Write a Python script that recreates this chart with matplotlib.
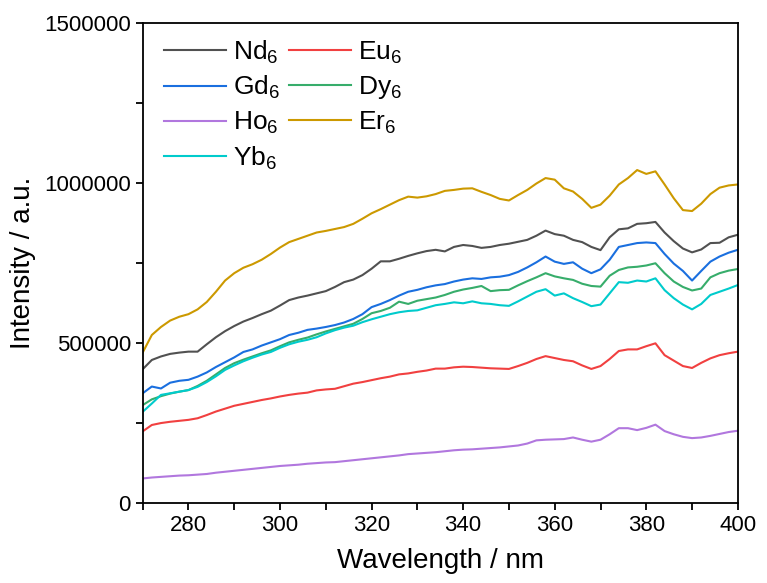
import numpy as np
import matplotlib
matplotlib.use("Agg")
import matplotlib.pyplot as plt
from matplotlib.ticker import MultipleLocator, FuncFormatter

plt.rcParams['font.family'] = ['Liberation Sans', 'DejaVu Sans']
plt.rcParams['mathtext.default'] = 'regular'

# longueurs d'onde (nm), pas de 2 nm
wavelength = np.arange(270, 401, 2)

# intensités (en milliers)
nd6 = [418, 447, 458, 466, 470, 473, 473, 496, 518, 537, 553, 567, 578, 590, 601, 617, 634, 642, 648, 655,
       662, 675, 690, 698, 712, 732, 755, 755, 763, 772, 780, 787, 791, 786, 800, 806, 803, 797, 800, 806,
       810, 816, 822, 835, 851, 840, 835, 822, 815, 800, 790, 830, 855, 858, 872, 874, 878, 845, 818, 795,
       783, 792, 812, 813, 830, 838]
eu6 = [224, 244, 250, 254, 257, 260, 265, 275, 286, 295, 304, 310, 316, 322, 327, 333, 338, 342, 345, 352,
       355, 357, 365, 373, 378, 384, 390, 395, 402, 405, 410, 414, 420, 420, 424, 426, 425, 423, 421, 420,
       419, 428, 438, 450, 459, 453, 447, 443, 430, 419, 428, 450, 475, 480, 480, 490, 499, 462, 445, 428,
       422, 438, 452, 462, 468, 473]
gd6 = [343, 364, 358, 376, 382, 385, 395, 408, 425, 440, 455, 472, 480, 492, 502, 512, 525, 532, 541, 545,
       550, 556, 564, 575, 590, 612, 622, 634, 648, 660, 666, 674, 680, 684, 692, 698, 702, 700, 705, 707,
       712, 722, 736, 752, 770, 754, 747, 752, 732, 718, 730, 760, 800, 806, 812, 814, 812, 778, 748, 725,
       695, 725, 754, 770, 782, 791]
dy6 = [306, 324, 334, 342, 348, 353, 366, 382, 402, 422, 437, 448, 458, 468, 477, 490, 502, 510, 517, 527,
       536, 544, 552, 560, 575, 593, 600, 610, 629, 622, 632, 637, 642, 650, 660, 667, 672, 678, 662, 665,
       666, 680, 693, 705, 718, 708, 702, 697, 685, 678, 676, 710, 728, 736, 738, 742, 749, 718, 692, 675,
       664, 670, 705, 718, 726, 731]
ho6 = [77, 80, 82, 84, 86, 87, 89, 91, 95, 98, 101, 104, 107, 110, 113, 116, 118, 120, 123, 125,
       127, 128, 131, 134, 137, 140, 143, 146, 149, 153, 155, 157, 159, 162, 165, 167, 168, 170, 172, 174,
       177, 180, 186, 196, 198, 199, 200, 205, 198, 192, 198, 215, 234, 234, 228, 235, 245, 225, 215, 207,
       203, 205, 210, 216, 222, 226]
er6 = [470, 525, 550, 570, 582, 590, 605, 628, 660, 695, 718, 735, 746, 760, 778, 798, 815, 825, 835, 845,
       850, 856, 862, 872, 888, 905, 918, 932, 946, 957, 954, 958, 965, 975, 978, 982, 983, 972, 962, 950,
       945, 962, 978, 998, 1015, 1010, 983, 973, 950, 922, 932, 960, 995, 1015, 1040, 1028, 1036, 995, 952, 915,
       912, 935, 965, 985, 992, 995]
yb6 = [285, 311, 338, 343, 348, 353, 363, 378, 396, 416, 430, 443, 454, 464, 472, 485, 496, 504, 510, 518,
       530, 540, 548, 554, 565, 574, 582, 590, 596, 600, 602, 610, 618, 622, 627, 624, 630, 624, 622, 618,
       616, 630, 645, 660, 668, 648, 655, 640, 628, 615, 620, 655, 690, 688, 695, 692, 702, 665, 640, 620,
       605, 622, 650, 660, 670, 681]

series = [
    (r'Nd$_6$', nd6, '#515151'),
    (r'Eu$_6$', eu6, '#F14040'),
    (r'Gd$_6$', gd6, '#1A6FDF'),
    (r'Dy$_6$', dy6, '#37AD6B'),
    (r'Ho$_6$', ho6, '#B177DE'),
    (r'Er$_6$', er6, '#CC9900'),
    (r'Yb$_6$', yb6, '#00CBCC'),
]

fig = plt.figure(figsize=(7.67, 5.83), dpi=100)
ax = fig.add_axes([0.186, 0.137, 0.776, 0.824])

lines = {}
for label, vals, color in series:
    l, = ax.plot(wavelength, np.array(vals) * 1000, color=color, linewidth=1.5, label=label)
    lines[label] = l

ax.set_xlim(270, 400)
ax.set_ylim(0, 1500000)
ax.xaxis.set_major_locator(MultipleLocator(20))
ax.xaxis.set_minor_locator(MultipleLocator(10))
ax.yaxis.set_major_locator(MultipleLocator(500000))
ax.yaxis.set_minor_locator(MultipleLocator(250000))
ax.yaxis.set_major_formatter(FuncFormatter(lambda v, p: f'{int(v)}'))
ax.tick_params(which='both', direction='out', length=5, width=1.3, labelsize=16, top=False, right=False)
for s in ax.spines.values():
    s.set_linewidth(1.3)

ax.set_xlabel('Wavelength / nm', fontsize=20, labelpad=9)
ax.set_ylabel('Intensity / a.u.', fontsize=20, labelpad=6)

# ordre de la légende : colonne 1 puis colonne 2
order = [r'Nd$_6$', r'Gd$_6$', r'Ho$_6$', r'Yb$_6$', r'Eu$_6$', r'Dy$_6$', r'Er$_6$']
ax.legend([lines[k] for k in order], order, ncol=2, loc='upper left', frameon=False,
          fontsize=19, handlelength=2.35, columnspacing=0.35, handletextpad=0.25,
          labelspacing=0.32, borderaxespad=0.3, borderpad=0.3,
          bbox_to_anchor=(0.01, 1.0))

fig.savefig('out.png', dpi=100)
